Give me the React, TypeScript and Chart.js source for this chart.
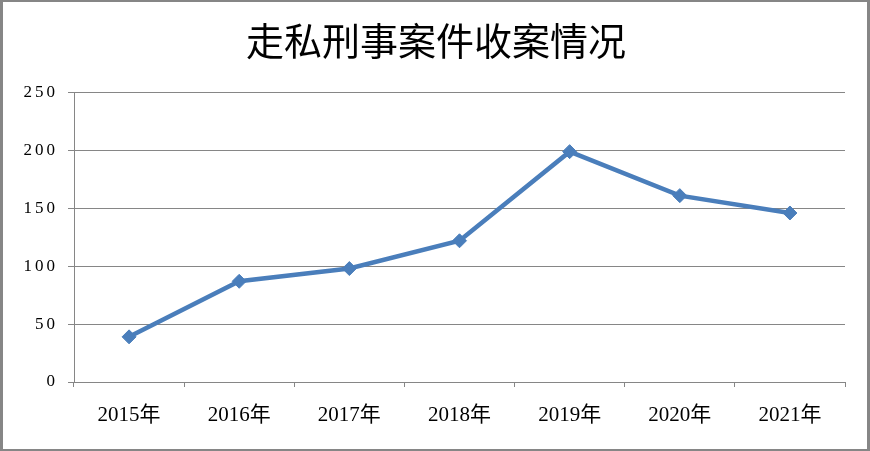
import React, { useEffect, useRef } from "react";
import { Chart, registerables } from "chart.js";

Chart.register(...registerables);

const title = "走私刑事案件收案情况";
const categories = ["2015年", "2016年", "2017年", "2018年", "2019年", "2020年", "2021年"];
const caseCounts = [39, 87, 98, 122, 199, 161, 146];
const yTickValues = [0, 50, 100, 150, 200, 250];

const GRAY = "#868686";
const BLUE = "#4A7EBB";
const RIGHT_PAD = 25;

function wrapLabels(scale: any, spacing: string) {
  if (!scale || scale.__wrapped) return;
  const orig = scale.drawLabels;
  scale.drawLabels = function (area: any) {
    const ctx = this.ctx;
    ctx.save();
    (ctx as any).letterSpacing = spacing;
    orig.call(this, area);
    ctx.restore();
  };
  scale.__wrapped = true;
}

const spacingPlugin = {
  id: "spacing",
  beforeDraw(chart: any) {
    wrapLabels(chart.scales.y, "3px");
    const t = chart.titleBlock;
    if (t && !t.__wrapped) {
      const orig = t.draw;
      t.draw = function () {
        const ctx = this.ctx;
        ctx.save();
        ctx.translate(RIGHT_PAD / 2 + 1, 0);
        orig.call(this);
        ctx.restore();
      };
      t.__wrapped = true;
    }
  },
};

const borderPlugin = {
  id: "frame",
  afterDraw(chart: any) {
    const ctx = chart.ctx;
    ctx.save();
    ctx.strokeStyle = GRAY;
    ctx.lineWidth = 2;
    ctx.strokeRect(1, 1, chart.width - 2, chart.height - 2);
    ctx.fillStyle = GRAY;
    ctx.fillRect(0, 0, 3, chart.height);
    ctx.fillRect(chart.width - 3, 0, 3, chart.height);
    ctx.restore();
  },
};

export default function App() {
  const ref = useRef<HTMLCanvasElement | null>(null);
  useEffect(() => {
    document.body.style.margin = "0";
    const canvas = ref.current!;
    const chart = new Chart(canvas, {
      type: "line",
      data: {
        labels: categories,
        datasets: [
          {
            data: caseCounts,
            borderColor: BLUE,
            backgroundColor: BLUE,
            borderWidth: 4.5,
            pointStyle: "rectRot",
            pointRadius: 7,
            pointBorderWidth: 1,
            pointBackgroundColor: BLUE,
            pointBorderColor: BLUE,
            tension: 0,
          },
        ],
      },
      options: {
        animation: false,
        responsive: false,
        devicePixelRatio: 1,
        layout: { padding: { left: 0, right: RIGHT_PAD, top: 0, bottom: 0 } },
        plugins: {
          legend: { display: false },
          tooltip: { enabled: false },
          title: {
            display: true,
            text: title,
            color: "#000",
            font: { family: "'Noto Sans CJK SC'", size: 38, weight: "normal", lineHeight: 1.2 },
            padding: { top: 18, bottom: 29 },
          },
        },
        scales: {
          x: {
            offset: true,
            grid: {
              offset: true,
              drawOnChartArea: false,
              drawTicks: true,
              tickLength: 5,
              color: GRAY,
            },
            border: { display: true, color: GRAY, width: 1 },
            ticks: {
              color: "#000",
              padding: 16,
              maxRotation: 0,
              font: { family: "'Liberation Serif', 'Noto Sans CJK SC'", size: 21 },
            },
            afterFit(scale: any) {
              scale.height = 69;
            },
          },
          y: {
            min: 0,
            max: 250,
            afterBuildTicks(scale: any) {
              scale.ticks = yTickValues.map((v) => ({ value: v }));
            },
            grid: {
              color: GRAY,
              drawTicks: true,
              tickLength: 6,
            },
            border: { display: true, color: GRAY, width: 1 },
            ticks: {
              color: "#000",
              padding: 10,
              font: { family: "'Liberation Serif'", size: 17 },
            },
            afterFit(scale: any) {
              scale.width = 74;
            },
          },
        },
      },
      plugins: [spacingPlugin, borderPlugin],
    });
    return () => chart.destroy();
  }, []);
  return (
    <div style={{ width: 870, height: 451 }}>
      <canvas ref={ref} width={870} height={451} style={{ width: 870, height: 451, display: "block" }} />
    </div>
  );
}
